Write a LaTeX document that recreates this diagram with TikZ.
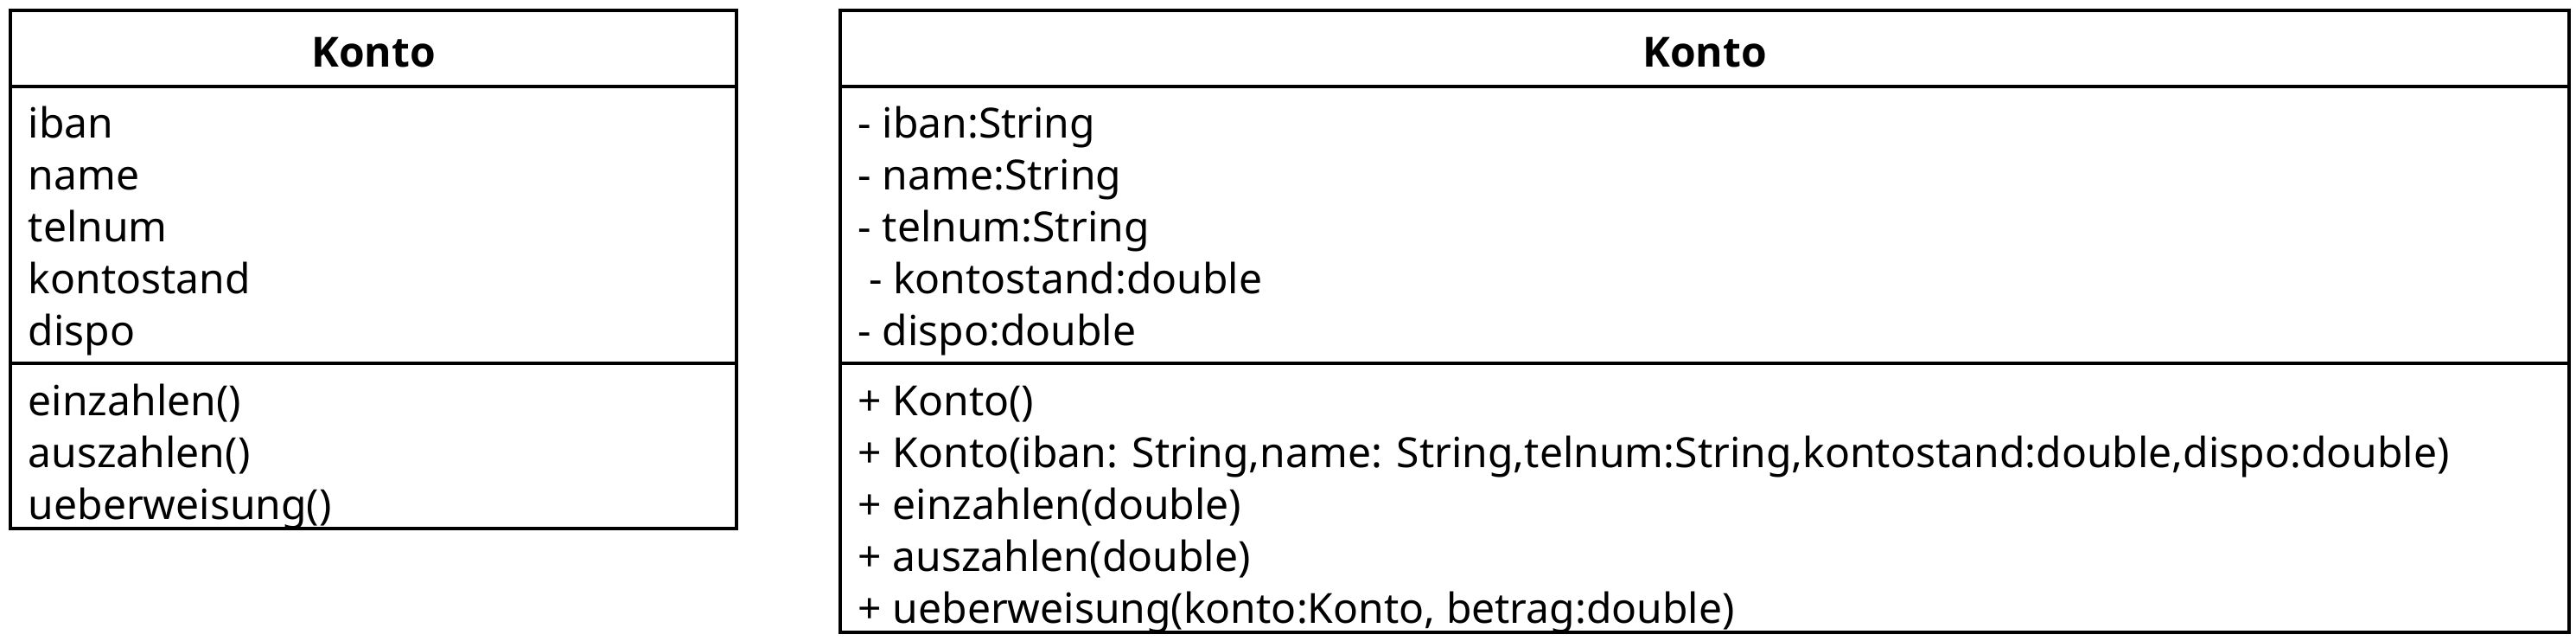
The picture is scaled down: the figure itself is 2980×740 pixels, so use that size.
\documentclass[tikz,border=0pt]{standalone}
\usepackage{fontspec}
\setmainfont{Noto Sans}
\newfontfamily\titlefont{Open Sans}
\begin{document}
\begin{tikzpicture}[x=0.25pt,y=-0.25pt,
  boxline/.style={line width=1.1pt, draw=black},
  umltitle/.style={anchor=base, inner sep=0pt, font=\titlefont\fontsize{12pt}{14pt}\selectfont\bfseries},
  umlrow/.style={anchor=base west, inner sep=0pt, font=\fontsize{12pt}{14pt}\selectfont}]
\useasboundingbox (0,0) rectangle (2980,740);
% left class
\draw[boxline] (12,12) rectangle (852,611);
\draw[boxline] (12,100) -- (852,100);
\draw[boxline] (12,420) -- (852,420);
\node[umltitle] (lt) at (432,77) {Konto};
\node[umlrow] (la1) at (32,159) {iban};
\node[umlrow] (la2) at (32,219) {name};
\node[umlrow] (la3) at (32,279) {telnum};
\node[umlrow] (la4) at (32,339) {kontostand};
\node[umlrow] (la5) at (32,399) {dispo};
\node[umlrow] (lm1) at (32,480) {einzahlen()};
\node[umlrow] (lm2) at (32,540) {auszahlen()};
\node[umlrow] (lm3) at (32,600) {ueberweisung()};
% right class
\draw[boxline] (972,12) rectangle (2972,731);
\draw[boxline] (972,100) -- (2972,100);
\draw[boxline] (972,420) -- (2972,420);
\node[umltitle] (rt) at (1972,77) {Konto};
\node[umlrow] (ra1) at (992,159) {- iban:String};
\node[umlrow] (ra2) at (992,219) {- name:String};
\node[umlrow] (ra3) at (992,279) {- telnum:String};
\node[umlrow] (ra4) at (992,339) {\ - kontostand:double};
\node[umlrow] (ra5) at (992,399) {- dispo:double};
\node[umlrow] (rm1) at (992,480) {+ Konto()};
\node[umlrow] (rm2) at (992,540) {+ Konto(iban: String,name: String,telnum:String,kontostand:double,dispo:double)};
\node[umlrow] (rm3) at (992,600) {+ einzahlen(double)};
\node[umlrow] (rm4) at (992,660) {+ auszahlen(double)};
\node[umlrow] (rm5) at (992,720) {+ ueberweisung(konto:Konto, betrag:double)};
\end{tikzpicture}
\end{document}
